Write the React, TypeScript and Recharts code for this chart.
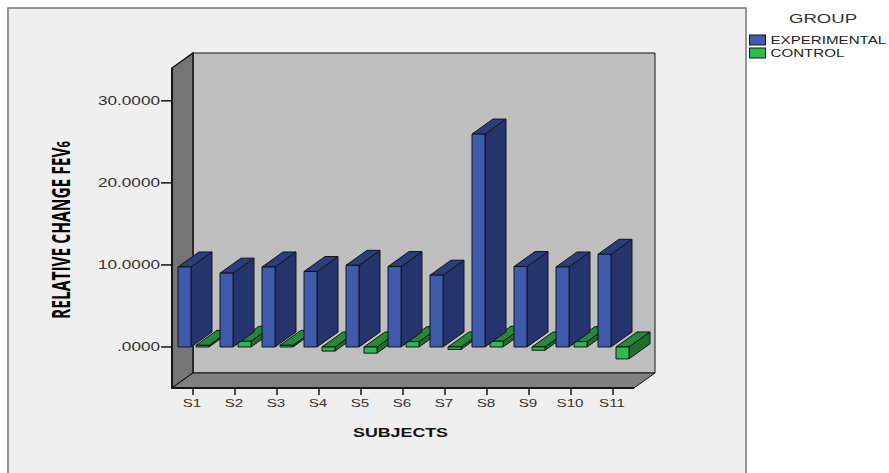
import { BarChart, Bar, XAxis, YAxis, Legend } from "recharts"

const subjects = ["S1", "S2", "S3", "S4", "S5", "S6", "S7", "S8", "S9", "S10", "S11"]
const experimental = [9.75, 9.0, 9.75, 9.2, 9.95, 9.8, 8.75, 25.95, 9.8, 9.75, 11.3]
const control = [0.2, 0.7, 0.2, -0.5, -0.75, 0.65, -0.3, 0.7, -0.4, 0.65, -1.45]
const yTicks = [0, 10, 20, 30]

const data = subjects.map((subject, i) => ({
  subject,
  experimental: experimental[i],
  control: control[i],
}))

// depth of the extruded boxes and of the chart frame
const DX = 21
const DY = -15

const PLOT = { left: 172, right: 634, top: 68, bottom: 388 }

const BLUE = { front: "#3f5bad", side: "#25346c", top: "#2b3d7d" }
const GREEN = { front: "#2dbb4b", side: "#1e6c2e", top: "#248a3a" }
const EDGE = "#141414"

const pts = (list: number[][]) => list.map((p) => p.join(",")).join(" ")

// Front, side and top faces of one bar
function Box3D(props: any, colors: typeof BLUE) {
  const { x, y, width, height } = props
  const top = Math.min(y, y + height)
  const bottom = Math.max(y, y + height)
  const right = x + width
  return (
    <g stroke={EDGE} strokeWidth={1} strokeLinejoin="round">
      <polygon
        fill={colors.side}
        points={pts([[right, top], [right + DX, top + DY], [right + DX, bottom + DY], [right, bottom]])}
      />
      <polygon
        fill={colors.top}
        points={pts([[x, top], [x + DX, top + DY], [right + DX, top + DY], [right, top]])}
      />
      <rect x={x} y={top} width={width} height={bottom - top} fill={colors.front} />
    </g>
  )
}

// Back wall, left wall and floor behind the bars
function Frame() {
  const { left, right, top, bottom } = PLOT
  return (
    <g>
      <rect x={8} y={8} width={738} height={480} fill="#efefef" stroke="#777" strokeWidth={1.5} />
      <polygon
        fill="#bfbfbf"
        stroke={EDGE}
        strokeWidth={1}
        points={pts([[left + DX, top + DY], [right + DX, top + DY], [right + DX, bottom + DY], [left + DX, bottom + DY]])}
      />
      <polygon
        fill="#757575"
        stroke={EDGE}
        strokeWidth={1.5}
        points={pts([[left, top], [left + DX, top + DY], [left + DX, bottom + DY], [left, bottom]])}
      />
      <polygon
        fill="#808080"
        stroke={EDGE}
        strokeWidth={1}
        points={pts([[left, bottom], [left + DX, bottom + DY], [right + DX, bottom + DY], [right, bottom]])}
      />
    </g>
  )
}

function YTick({ x, y, payload }: any) {
  const label = payload.value === 0 ? ".0000" : payload.value.toFixed(4)
  return (
    <text
      transform={`translate(${x + 1},${y + 4.5}) scale(1.43,1)`}
      textAnchor="end"
      fontFamily="Liberation Sans"
      fontSize={12}
      fill="#333"
    >
      {label}
    </text>
  )
}

function XTick({ x, y, payload }: any) {
  return (
    <text
      transform={`translate(${x - 1},${y + 10}) scale(1.42,1)`}
      textAnchor="middle"
      fontFamily="Liberation Sans"
      fontSize={10.7}
      fill="#333"
    >
      {payload.value}
    </text>
  )
}

function GroupLegend() {
  const rows = [
    { name: "EXPERIMENTAL", color: BLUE.front },
    { name: "CONTROL", color: GREEN.front },
  ]
  return (
    <svg width={144} height={60} style={{ display: "block" }}>
      <text
        transform="translate(78,14) scale(1.43,1)"
        textAnchor="middle"
        fontFamily="Liberation Sans"
        fontSize={13}
        fill="#333"
      >
        GROUP
      </text>
      {rows.map((row, i) => (
        <g key={row.name} transform={`translate(0,${i * 13})`}>
          <rect x={4.5} y={26} width={16} height={10} fill={row.color} stroke={EDGE} strokeWidth={1} />
          <text
            transform="translate(25.5,34.8) scale(1.375,1)"
            fontFamily="Liberation Sans"
            fontSize={11}
            fill="#222"
          >
            {row.name}
          </text>
        </g>
      ))}
    </svg>
  )
}

export default function App() {
  return (
    <div style={{ position: "absolute", left: 0, top: 0, width: 889, height: 473, background: "#fff", overflow: "hidden" }}>
      <BarChart
        width={889}
        height={473}
        data={data}
        barSize={13}
        barGap={5}
        margin={{ left: 72, right: 255, top: 68, bottom: 45 }}
      >
        <Frame />
        <XAxis
          dataKey="subject"
          height={40}
          tick={<XTick />}
          interval={0}
          tickLine={{ stroke: EDGE, strokeWidth: 1.5 }}
          tickSize={7}
          axisLine={{ stroke: EDGE, strokeWidth: 2 }}
        />
        <YAxis
          width={100}
          domain={[-5, 34]}
          ticks={yTicks}
          tick={<YTick />}
          tickLine={{ stroke: EDGE, strokeWidth: 1.5 }}
          tickSize={11}
          axisLine={{ stroke: EDGE, strokeWidth: 2 }}
        />
        <Legend
          layout="vertical"
          align="center"
          verticalAlign="middle"
          wrapperStyle={{ left: 745, top: 9, width: 144, height: 60 }}
          content={<GroupLegend />}
        />
        <Bar
          dataKey="experimental"
          zIndex={310}
          isAnimationActive={false}
          shape={(p: any) => Box3D(p, BLUE)}
        />
        <Bar
          dataKey="control"
          zIndex={300}
          isAnimationActive={false}
          shape={(p: any) => Box3D(p, GREEN)}
        />
        <text
          transform="translate(69.5,319) rotate(-90)"
          textLength={178}
          lengthAdjust="spacingAndGlyphs"
          fontFamily="Open Sans"
          fontWeight={700}
          fontSize={25}
          fill="#000"
        >
          RELATIVE CHANGE FEV<tspan fontSize={18}>6</tspan>
        </text>
        <text
          x={353}
          y={437}
          textLength={95}
          lengthAdjust="spacingAndGlyphs"
          fontFamily="Liberation Sans"
          fontWeight={700}
          fontSize={12.5}
          fill="#111"
        >
          SUBJECTS
        </text>
      </BarChart>
    </div>
  )
}
